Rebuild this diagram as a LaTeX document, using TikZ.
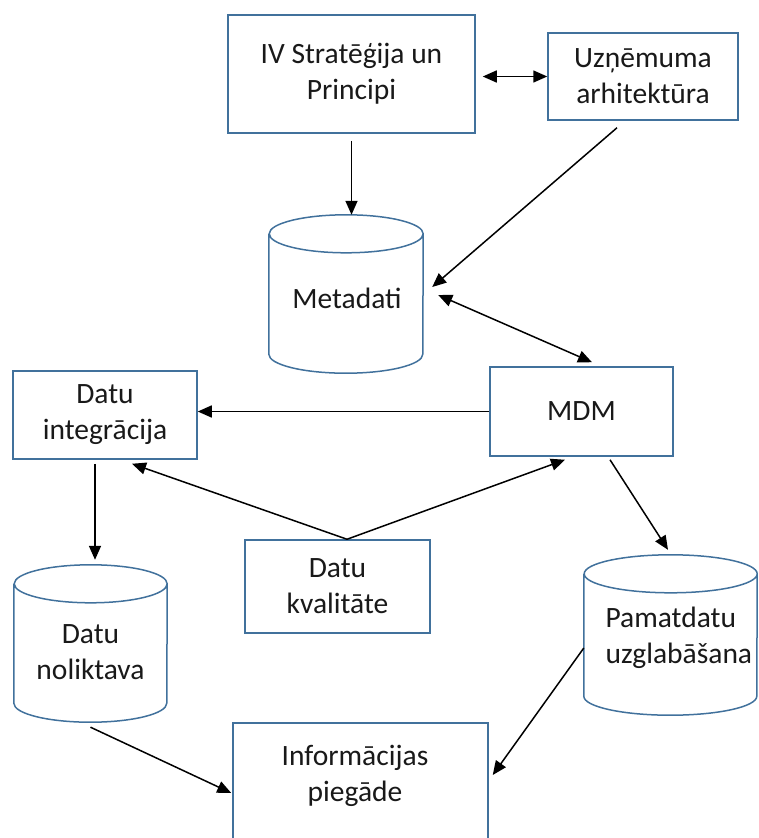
\documentclass[tikz,border=0pt]{standalone}
\usepackage{fontspec}
\setmainfont{Carlito}
\usetikzlibrary{arrows.meta,calc}
\definecolor{edgeblue}{RGB}{65,113,156}
\newcommand\drawdrum[2]{%
  \draw[drumline] ([yshift=-19pt]#1.north west) -- ([yshift=19pt]#1.south west)
    arc[start angle=180,end angle=360,x radius=#2,y radius=19pt]
    -- ([yshift=-19pt]#1.north east)
    arc[start angle=0,end angle=180,x radius=#2,y radius=19pt]
    arc[start angle=180,end angle=360,x radius=#2,y radius=19pt];}
\begin{document}
\begin{tikzpicture}[x=1pt,y=1pt,
  every node/.style={font=\fontsize{29.5}{36}\selectfont, text=black!90},
  box/.style={draw=edgeblue, line width=1.5pt, fill=white, align=center, inner sep=0pt},
  drumspot/.style={draw=none, inner sep=0pt, align=center},
  drumline/.style={draw=edgeblue, line width=1.5pt},
  arr/.style={line width=1.5pt, -{Triangle[length=14pt,width=12pt]}},
  darr/.style={line width=1.5pt, {Triangle[length=14pt,width=12pt]}-{Triangle[length=14pt,width=12pt]}}]
\useasboundingbox (0,0) rectangle (758,-838);

% rectangles
\node[box, minimum width=247pt, minimum height=118pt] (strat) at (351.5,-74) {IV Stratēģija un\\Principi};
\node[box, minimum width=190pt, minimum height=87pt] (uzn) at (643,-76.5) {Uzņēmuma\\arhitektūra};
\node[box, minimum width=183pt, minimum height=89pt] (mdm) at (581.5,-411.5) {MDM};
\node[box, minimum width=184pt, minimum height=88pt] (dint) at (105,-415) {Datu\\integrācija};
\node[box, minimum width=185pt, minimum height=93pt] (dkval) at (337.5,-586.5) {Datu\\kvalitāte};
\begin{scope}
  \clip (0,0) rectangle (758,-838);
  \node[box, minimum width=255pt, minimum height=140pt] (info) at (360.5,-793) {};
\end{scope}
\node[align=center] (infotext) at (355,-776) {Informācijas\\piegāde};

% cylinders
\node[drumspot, minimum width=154pt, minimum height=158pt] (meta) at (346,-294) {};
\node[drumspot, minimum width=153pt, minimum height=157pt] (dnol) at (90.5,-643.5) {};
\node[drumspot, minimum width=173pt, minimum height=160pt] (pamat) at (670.5,-635) {};
\drawdrum{meta}{77pt}
\drawdrum{dnol}{76.5pt}
\drawdrum{pamat}{86.5pt}
\node (metatext) at (347,-298) {Metadati};
\node[align=center] (dnoltext) at (90.5,-652) {Datu\\noliktava};
\node[align=left, anchor=west] (pamattext) at (602,-637.5) {Pamatdatu\\uzglabāšana};

% connectors
\draw[arr] ([yshift=-7pt]strat.south) -- (strat.south |- meta.north);
\draw[darr] ($(strat.east |- uzn.west)+(7,0)$) -- (uzn.west);
\draw[arr] ([shift={(-26,-7)}]uzn.south) -- ([shift={(9,7)}]meta.east);
\draw[darr] ([shift={(15,-1)}]meta.east) -- ([shift={(10.5,4)}]mdm.north);
\draw[arr] (mdm.west) -- (mdm.west -| dint.east);
\coordinate (kvaltop) at ([xshift=9.5]dkval.north);
\draw[arr] (kvaltop) -- ([shift={(27,-4)}]dint.south);
\draw[arr] (kvaltop) -- ([shift={(-16.5,-3)}]mdm.south);
\coordinate (intfoot) at ([shift={(-10,-4)}]dint.south);
\coordinate (noltop) at ([yshift=5pt]dnol.north);
\draw[arr] (intfoot) -- (intfoot |- noltop);
\draw[arr] ([shift={(28.5,-3)}]mdm.south) -- ([shift={(-2.5,5)}]pamat.north);
\draw[arr] ([yshift=-5pt]dnol.south) -- ([xshift=-1pt]info.west);
\draw[arr] ([yshift=-13pt]pamat.west) -- ([shift={(4,18)}]info.east);
\end{tikzpicture}
\end{document}
